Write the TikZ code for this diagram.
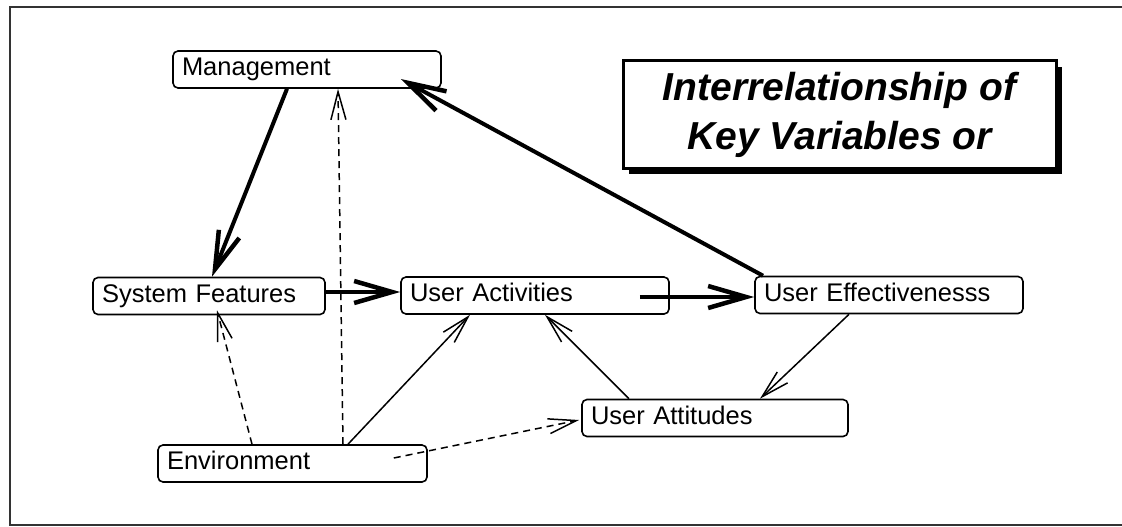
\documentclass[tikz,border=0pt]{standalone}
\usepackage{fontspec}
\setmainfont{Liberation Sans}
\usetikzlibrary{arrows.meta,shadows,calc}
\newcommand{\boxfont}{\fontsize{25.5pt}{30pt}\selectfont}
\newcommand{\titlefont}{\fontsize{39pt}{49pt}\selectfont\bfseries\itshape}
\tikzset{
  vbox/.style={draw, rounded corners=5pt, line width=1.6pt, font=\boxfont, align=left,
    inner xsep=9pt, inner ysep=0pt, minimum height=37pt, text height=18pt, text depth=6pt, anchor=center},
  thickarr/.style={line width=4pt, -{Straight Barb[length=38pt,width=22pt,line width=4.5pt]}},
  thinarr/.style={line width=1.5pt, -{Straight Barb[length=28pt,width=15pt,line width=1.5pt]}},
  dasharr/.style={thinarr, dash pattern=on 7pt off 5pt},
  framebar/.style={line width=2.5pt, draw=black!80}
}
\begin{document}
\begin{tikzpicture}[x=1pt,y=-1pt]
\useasboundingbox (0,0) rectangle (1122,527);
% frame
\draw[framebar] (1122,7) -- (10,7) -- (10,525) -- (1122,525);
% title
\node[draw, line width=3pt, fill=white, minimum width=433pt, minimum height=107pt, align=center,
  font=\titlefont, drop shadow={shadow xshift=6pt, shadow yshift=-6pt, fill=black, opacity=1}]
  (title) at (839.5,114.5) {Interrelationship of\\Key Variables or};
% boxes
\node[vbox, text width=250pt] (mgmt) at (307,69.5) {Management};
\node[vbox, text width=214pt] (sf) at (209,296) {System Features};
\node[vbox, text width=250pt] (ua) at (535,295.5) {User Activities};
\node[vbox, text width=250pt] (ue) at (889,295) {User Effectivenesss};
\node[vbox, text width=248pt] (uatt) at (715,418) {User Attitudes};
\node[vbox, text width=251pt] (env) at (292.5,463.5) {Environment};
% thick connectors
\draw[thickarr] ([xshift=-20pt]mgmt.south) -- ([xshift=3pt]sf.north);
\draw[thickarr] ([xshift=-126pt]ue.north) -- ([xshift=-41pt,yshift=-9.5pt]mgmt.east);
\draw[thickarr] ([yshift=4pt]sf.east) -- ([yshift=3.5pt]ua.west);
\draw[thickarr] ([xshift=-30pt,yshift=-1.5pt]ua.east) -- ([yshift=-2pt]ue.west);
% thin connectors
\draw[thinarr] ([xshift=-40pt]ue.south) -- ([xshift=45pt]uatt.north);
\draw[thinarr] ([xshift=-86pt]uatt.north) -- ([xshift=10pt]ua.south);
\draw[thinarr] ([xshift=55.5pt]env.north) -- ([xshift=-65pt]ua.south);
% dashed connectors
\draw[dasharr] ([xshift=-40.5pt]env.north) -- ([xshift=8pt,yshift=5pt]sf.south);
\draw[dasharr] ([xshift=50.5pt]env.north) -- ([xshift=31pt]mgmt.south);
\draw[dasharr] ([xshift=-34pt,yshift=5.5pt]env.east) -- ([xshift=-2pt,yshift=-2pt]uatt.west);
\end{tikzpicture}
\end{document}
